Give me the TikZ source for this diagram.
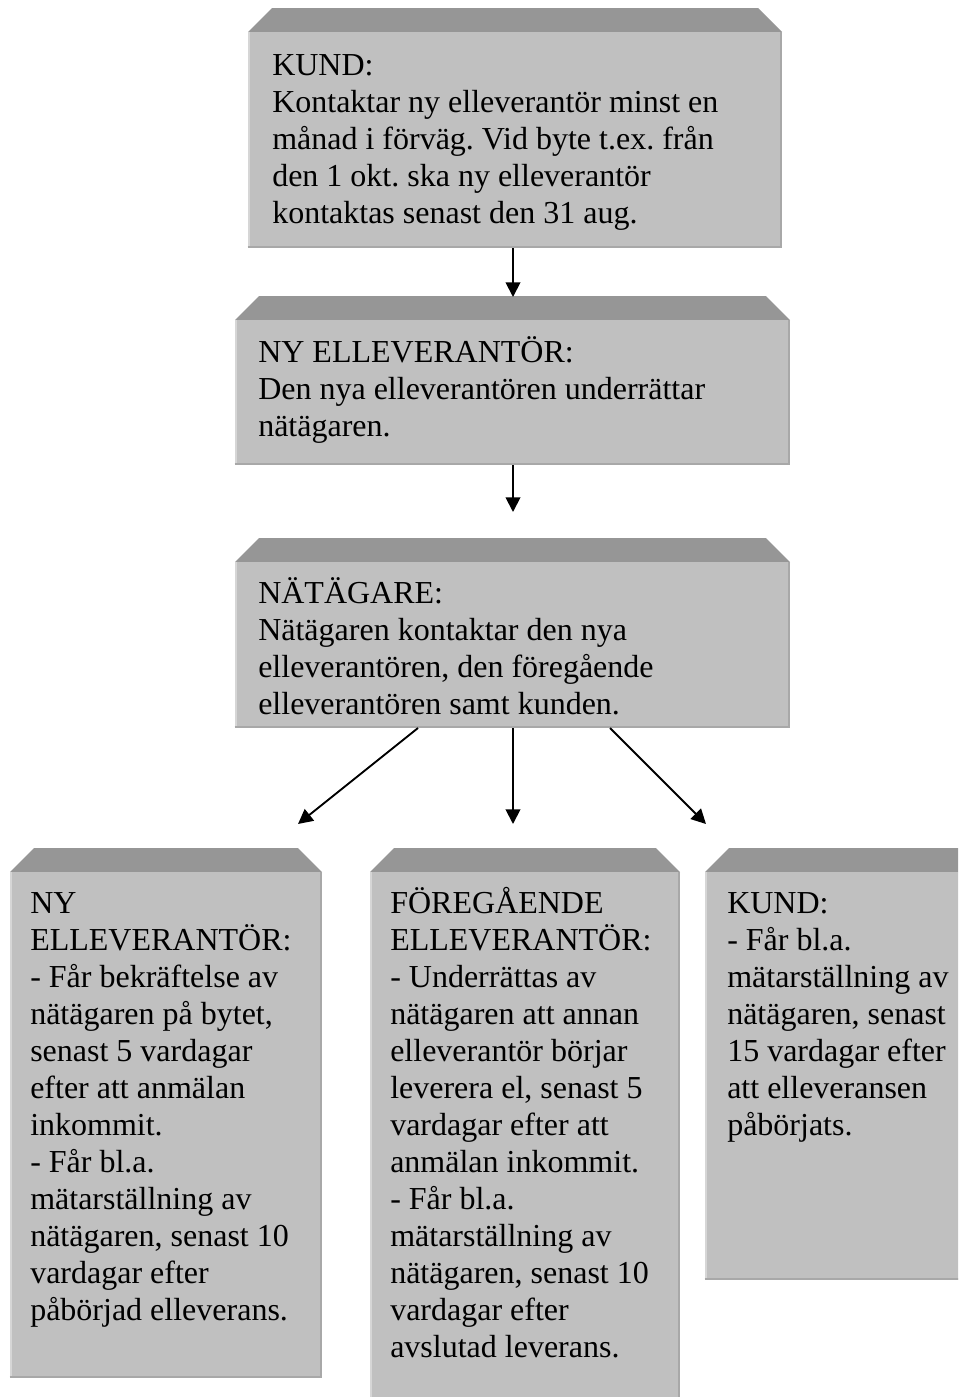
\documentclass[tikz,border=0pt]{standalone}
\usepackage{fontspec}
\setmainfont{Liberation Serif}
\usetikzlibrary{arrows.meta,calc,fit}
\definecolor{facegray}{RGB}{192,192,192}
\definecolor{bevelgray}{RGB}{150,150,150}
\definecolor{edgelight}{RGB}{214,214,214}
\definecolor{edgedark}{RGB}{168,168,168}
\newcommand\bevbox[5]{%
  \fill[bevelgray] (#2,#3) -- (#2+24,#3-24) -- (#4-24,#3-24) -- (#4,#3) -- cycle;
  \coordinate (#1-nw) at (#2,#3);
  \coordinate (#1-se) at (#4,#5);
  \node[facebox, fit=(#1-nw)(#1-se)] (#1) {};
  \draw[edgelight, line width=1.5pt] ([xshift=0.75pt]#1.north west) -- ([xshift=0.75pt]#1.south west);
  \draw[edgedark, line width=2pt] ([xshift=-1pt]#1.north east) -- ([xshift=-1pt]#1.south east);
  \draw[edgedark, line width=2pt] ([yshift=1pt]#1.south west) -- ([yshift=1pt]#1.south east);
}
\begin{document}
\begin{tikzpicture}[x=0.75pt,y=-0.75pt,
  facebox/.style={fill=facegray, inner sep=0pt, draw=none},
  txt/.style={font=\fontsize{24}{27.75}\selectfont\frenchspacing, align=left, inner sep=0pt, anchor=base west},
  conn/.style={line width=1.4pt, -{Triangle[length=11pt,width=11pt]}}]
\useasboundingbox (0,0) rectangle (958,1397);
\clip (0,0) rectangle (958,1397);

\bevbox{b1}{248}{32}{782}{248}
\bevbox{b2}{235}{320}{790}{465}
\bevbox{b3}{235}{562}{790}{728}
\bevbox{bl}{10}{872}{322}{1378}
\bevbox{bm}{370}{872}{680}{1410}
\bevbox{br}{705}{872}{985}{1280}

% anchor = baseline of the last line (first baseline + (lines-1)*37)
\node[txt] (t1) at (272,223) {KUND:\\Kontaktar ny elleverantör minst en\\månad i förväg. Vid byte t.ex. från\\den 1 okt. ska ny elleverantör\\kontaktas senast den 31 aug.};
\node[txt] (t2) at (258,436) {NY ELLEVERANTÖR:\\Den nya elleverantören underrättar\\nätägaren.};
\node[txt] (t3) at (258,714) {NÄTÄGARE:\\Nätägaren kontaktar den nya\\elleverantören, den föregående\\elleverantören samt kunden.};
\node[txt] (tl) at (30,1320) {NY\\ELLEVERANTÖR:\\- Får bekräftelse av\\nätägaren på bytet,\\senast 5 vardagar\\efter att anmälan\\inkommit.\\- Får bl.a.\\mätarställning av\\nätägaren, senast 10\\vardagar efter\\påbörjad elleverans.};
\node[txt] (tm) at (390,1357) {FÖREGÅENDE\\ELLEVERANTÖR:\\- Underrättas av\\nätägaren att annan\\elleverantör börjar\\leverera el, senast 5\\vardagar efter att\\anmälan inkommit.\\- Får bl.a.\\mätarställning av\\nätägaren, senast 10\\vardagar efter\\avslutad leverans.};
\node[txt] (tr) at (727,1135) {KUND:\\- Får bl.a.\\mätarställning av\\nätägaren, senast\\15 vardagar efter\\att elleveransen\\påbörjats.};

\coordinate (e12) at (513,297);
\coordinate (e23) at (513,512);
\coordinate (s3l) at (418,728);
\coordinate (s3r) at (610,728);
\coordinate (e3l) at (298,824);
\coordinate (e3m) at (513,824);
\coordinate (e3r) at (706,824);
\draw[conn] (b1.south -| e12) -- (e12);
\draw[conn] (b2.south -| e23) -- (e23);
\draw[conn] (s3l) -- (e3l);
\draw[conn] (b3.south -| e3m) -- (e3m);
\draw[conn] (s3r) -- (e3r);
\end{tikzpicture}
\end{document}
